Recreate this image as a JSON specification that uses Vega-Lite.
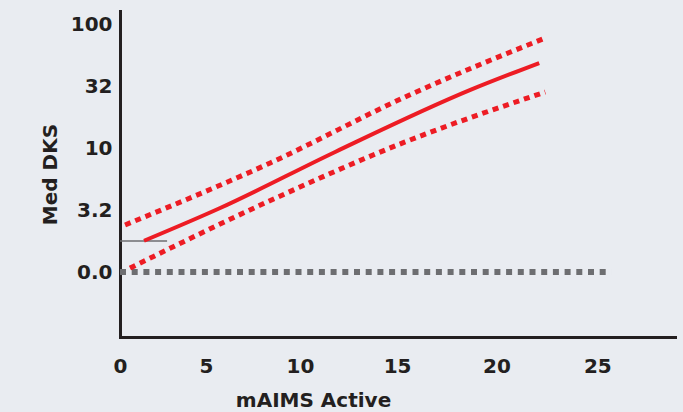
{
  "$schema": "https://vega.github.io/schema/vega-lite/v6.json",
  "autosize": "none",
  "width": 555,
  "height": 326,
  "padding": {"left": 120, "top": 11, "right": 8, "bottom": 75},
  "background": "#e9ecf1",
  "config": {
    "view": {"stroke": null},
    "font": "DejaVu Sans",
    "axis": {
      "grid": false,
      "ticks": false,
      "tickSize": 0,
      "domainColor": "#231f20",
      "domainWidth": 3,
      "domainCap": "square",
      "labelFont": "DejaVu Sans",
      "labelFontWeight": "bold",
      "labelFontSize": 20,
      "labelColor": "#231f20",
      "titleFont": "DejaVu Sans",
      "titleFontWeight": "bold",
      "titleFontSize": 20,
      "titleColor": "#231f20"
    }
  },
  "datasets": {
    "fit": [
      {"mAIMS": 1.51, "logDKS": 0.253},
      {"mAIMS": 5.77, "logDKS": 0.518},
      {"mAIMS": 11.83, "logDKS": 0.972},
      {"mAIMS": 18.70, "logDKS": 1.474},
      {"mAIMS": 22.13, "logDKS": 1.692}
    ],
    "upper": [
      {"mAIMS": 0.35, "logDKS": 0.381},
      {"mAIMS": 8.44, "logDKS": 0.883},
      {"mAIMS": 15.52, "logDKS": 1.425},
      {"mAIMS": 22.43, "logDKS": 1.895}
    ],
    "lower": [
      {"mAIMS": 0.66, "logDKS": 0.032},
      {"mAIMS": 8.28, "logDKS": 0.567},
      {"mAIMS": 15.41, "logDKS": 1.053},
      {"mAIMS": 22.43, "logDKS": 1.457}
    ],
    "zero": [
      {"mAIMS": 0, "logDKS": 0},
      {"mAIMS": 25.69, "logDKS": 0}
    ],
    "ref": [
      {"mAIMS": 0, "logDKS": 0.251},
      {"mAIMS": 2.84, "logDKS": 0.251}
    ]
  },
  "encoding": {
    "x": {
      "field": "mAIMS",
      "type": "quantitative",
      "scale": {"type": "pow", "exponent": 1.065, "domain": [0, 28.8], "nice": false, "zero": true},
      "axis": {
        "title": "mAIMS Active",
        "values": [0, 5, 10, 15, 20, 25],
        "format": "d",
        "labelPadding": 19,
        "titlePadding": 14,
        "titleX": 193,
        "titleAlign": "center",
        "labelFlush": false
      }
    },
    "y": {
      "field": "logDKS",
      "type": "quantitative",
      "scale": {"domain": [-0.526, 2.113], "nice": false, "zero": false},
      "axis": {
        "title": "Med DKS",
        "values": [0, 0.5, 1, 1.5, 2],
        "labelExpr": "datum.value == 2 ? '100' : datum.value == 1.5 ? '32' : datum.value == 1 ? '10' : datum.value == 0.5 ? '3.2' : '0.0'",
        "labelPadding": 8,
        "titlePadding": 10,
        "labelFlush": false
      }
    }
  },
  "layer": [
    {
      "data": {"name": "zero"},
      "mark": {"type": "line", "color": "#6d6e71", "strokeWidth": 6, "strokeDash": [6, 5.7], "strokeCap": "butt"}
    },
    {
      "data": {"name": "ref"},
      "mark": {"type": "line", "color": "#6d6e71", "strokeWidth": 1.5}
    },
    {
      "data": {"name": "upper"},
      "mark": {"type": "line", "color": "#ed1c24", "strokeWidth": 5, "strokeDash": [6, 5], "interpolate": "monotone"}
    },
    {
      "data": {"name": "lower"},
      "mark": {"type": "line", "color": "#ed1c24", "strokeWidth": 5, "strokeDash": [6, 5], "interpolate": "monotone"}
    },
    {
      "data": {"name": "fit"},
      "mark": {"type": "line", "color": "#ed1c24", "strokeWidth": 4, "interpolate": "monotone"}
    }
  ]
}
